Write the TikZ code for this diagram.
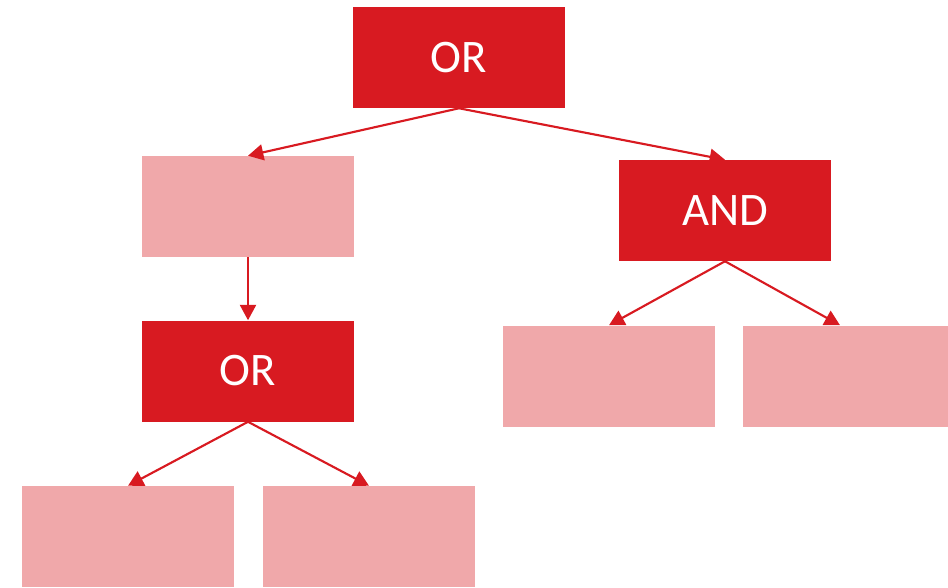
\documentclass[tikz,border=0pt]{standalone}
\usepackage{fontspec}
\setmainfont{Carlito}
\usetikzlibrary{arrows.meta}
\definecolor{gateRed}{RGB}{216,26,33}
\definecolor{leafPink}{RGB}{240,168,170}
\newcommand{\boxScale}[0]{0.75pt}

\begin{document}
\begin{tikzpicture}[x=\boxScale, y=-\boxScale]
  \tikzset{
    gate/.style={fill=gateRed, text=white, minimum width=159pt, minimum height=75.75pt,
      inner sep=0pt, font=\fontsize{35}{40}\selectfont},
    leaf/.style={fill=leafPink, minimum width=159pt, minimum height=75.75pt, inner sep=0pt},
    link/.style={draw=gateRed, line width=1.6pt, -{Triangle[length=11.5pt,width=12pt]}}
  }
  \useasboundingbox (0,0) rectangle (948,587);
  \clip (0,0) rectangle (948,587);
  \node[gate] (OR-1) at (459,57.5) {OR};
  \node[leaf] (LEAF-1) at (248,206.5) {};
  \node[gate] (AND-1) at (725,210.5) {AND};
  \node[gate] (OR-2) at (248,371) {OR};
  \node[leaf] (LEAF-2-1) at (609,376) {};
  \node[leaf] (LEAF-2-2) at (849,376) {};
  \node[leaf] (LEAF-3-1) at (128,536.5) {};
  \node[leaf] (LEAF-3-2) at (369,536.5) {};
  \draw[link] (OR-1.south) -- (LEAF-1.north);
  \draw[link] (OR-1.south) -- (AND-1.north);
  \draw[link] (LEAF-1.south) -- (OR-2.north);
  \draw[link] (AND-1.south) -- (LEAF-2-1.north);
  \draw[link] (AND-1.south) -- ([xshift=-6.75pt]LEAF-2-2.north);
  \draw[link] (OR-2.south) -- (LEAF-3-1.north);
  \draw[link] (OR-2.south) -- (LEAF-3-2.north);
\end{tikzpicture}
\end{document}
